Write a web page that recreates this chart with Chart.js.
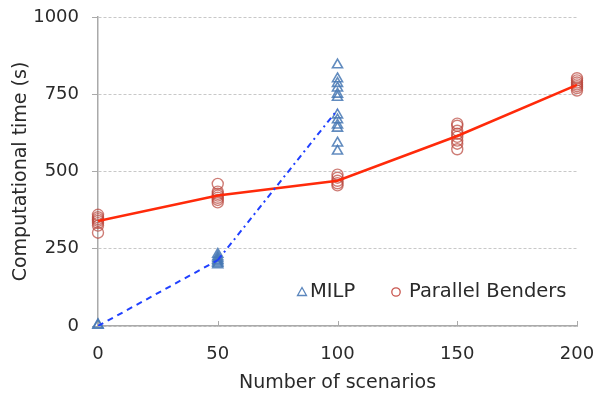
<!DOCTYPE html>
<html>
<head>
<meta charset="utf-8">
<script src="https://cdn.jsdelivr.net/npm/chart.js@4/dist/chart.umd.min.js"></script>
<style>
  html, body { margin: 0; padding: 0; background: #fff; }
  #wrap { width: 595px; height: 400px; }
</style>
</head>
<body>
<div id="wrap"><canvas id="chart"></canvas></div>
<script>
// ===== datos =====
const scenarios = [0, 50, 100, 150, 200];
const xTicks = [0, 50, 100, 150, 200];
const yTicks = [0, 250, 500, 750, 1000];

// tiempos individuales MILP (s)
const milp0 = [2, 4];
const milp50 = [198, 203, 208, 213, 218, 224, 232];
const milp100 = [845, 800, 785, 770, 750, 740, 683, 667, 650, 640, 592, 566];
// linea MILP (media)
const milpLineX = [0, 50, 100];
const milpLineY = [0, 213, 700];

// tiempos individuales Parallel Benders (s)
const pb0 = [302, 325, 333, 340, 346, 352, 360];
const pb50 = [400, 408, 415, 422, 428, 435, 460];
const pb100 = [455, 462, 470, 480, 490];
const pb150 = [572, 590, 600, 612, 622, 632, 648, 655];
const pb200 = [762, 770, 776, 782, 788, 795, 802];
// linea Parallel Benders (media)
const pbLineY = [340, 422, 470, 615, 780];

const FONT = "'DejaVu Sans', sans-serif";
const TEXT = "#2a2a2a";

function toPoints(x, arr) {
  return arr.map(v => ({ x: x, y: v }));
}

const milpPoints = [].concat(toPoints(0, milp0), toPoints(50, milp50), toPoints(100, milp100));
const pbPoints = [].concat(toPoints(0, pb0), toPoints(50, pb50), toPoints(100, pb100),
  toPoints(150, pb150), toPoints(200, pb200));

// marcas del eje x hacia dentro
const innerTicks = {
  id: "innerTicks",
  beforeDatasetsDraw(chart) {
    const c = chart.ctx;
    const xs = chart.scales.x;
    const bottom = chart.chartArea.bottom;
    c.save();
    c.strokeStyle = "#aaaaaa";
    c.lineWidth = 1;
    xTicks.forEach(v => {
      const px = Math.round(xs.getPixelForValue(v)) + 0.5;
      c.beginPath();
      c.moveTo(px, bottom);
      c.lineTo(px, bottom - 5);
      c.stroke();
    });
    c.restore();
  }
};

// leyenda dentro del area
const insideLegend = {
  id: "insideLegend",
  afterDraw(chart) {
    const c = chart.ctx;
    c.save();
    c.font = "19.5px " + FONT;
    c.fillStyle = TEXT;
    c.textBaseline = "middle";
    const y = 292;
    // triangulo
    c.strokeStyle = "#5b86bd";
    c.lineWidth = 1.3;
    c.beginPath();
    c.moveTo(302, y - 4.5);
    c.lineTo(306.5, y + 3.5);
    c.lineTo(297.5, y + 3.5);
    c.closePath();
    c.stroke();
    c.fillText("MILP", 310, y);
    // circulo
    c.strokeStyle = "#c9564f";
    c.beginPath();
    c.arc(396, y, 4.2, 0, Math.PI * 2);
    c.stroke();
    c.fillText("Parallel Benders", 409, y);
    c.restore();
  }
};

new Chart(document.getElementById("chart"), {
  type: "scatter",
  data: {
    datasets: [
      {
        type: "line",
        label: "MILP line",
        data: milpLineX.map((x, i) => ({ x: x, y: milpLineY[i] })),
        borderColor: "#2040ff",
        borderWidth: 2,
        pointRadius: 0,
        fill: false,
        segment: {
          borderDash: ctx => ctx.p0DataIndex === 0 ? [6, 5] : [6, 4, 2, 4]
        }
      },
      {
        type: "line",
        label: "PB line",
        data: scenarios.map((x, i) => ({ x: x, y: pbLineY[i] })),
        borderColor: "#ff2a0a",
        borderWidth: 2.5,
        pointRadius: 0,
        fill: false
      },
      {
        label: "MILP",
        data: milpPoints,
        clip: false,
        pointStyle: "triangle",
        pointRadius: 5.8,
        borderColor: "rgba(70,120,180,0.85)",
        backgroundColor: "rgba(0,0,0,0)",
        borderWidth: 1.6
      },
      {
        label: "Parallel Benders",
        data: pbPoints,
        clip: false,
        pointStyle: "circle",
        pointRadius: 5.5,
        borderColor: "rgba(185,70,60,0.7)",
        backgroundColor: "rgba(0,0,0,0)",
        borderWidth: 1.4
      }
    ]
  },
  options: {
    responsive: true,
    maintainAspectRatio: false,
    animation: false,
    layout: { padding: { top: 17, right: 18, left: 10, bottom: 0 } },
    plugins: {
      legend: { display: false },
      tooltip: { enabled: false }
    },
    scales: {
      x: {
        type: "linear",
        min: 0,
        max: 200,
        afterBuildTicks: axis => { axis.ticks = xTicks.map(v => ({ value: v })); },
        afterFit: axis => { axis.height = 74; axis.paddingLeft = 0; axis.paddingRight = 0; },
        ticks: { color: TEXT, font: { family: FONT, size: 18 }, padding: 18, callback: v => String(v) },
        grid: { drawOnChartArea: false, drawTicks: true, tickLength: 0, color: "#aaaaaa" },
        border: { color: "#aaaaaa", width: 1.5 },
        title: {
          display: true,
          text: "Number of scenarios",
          color: TEXT,
          font: { family: FONT, size: 19 },
          padding: { top: 4, bottom: 6 }
        }
      },
      y: {
        min: 0,
        max: 1000,
        afterBuildTicks: axis => { axis.ticks = yTicks.map(v => ({ value: v })); },
        afterFit: axis => { axis.width = 88; axis.paddingTop = 0; axis.paddingBottom = 0; },
        ticks: { color: TEXT, font: { family: FONT, size: 18 }, padding: 13, callback: v => String(v) },
        grid: { color: "#c8c8c8", lineWidth: 1, tickLength: 6, tickColor: "#aaaaaa", tickBorderDash: [] },
        border: { color: "#aaaaaa", width: 1.5, dash: [3, 2] },
        title: {
          display: true,
          text: "Computational time (s)",
          color: TEXT,
          font: { family: FONT, size: 19 },
          padding: { top: 0, bottom: 0 }
        }
      }
    }
  },
  plugins: [innerTicks, insideLegend]
});
</script>
</body>
</html>
